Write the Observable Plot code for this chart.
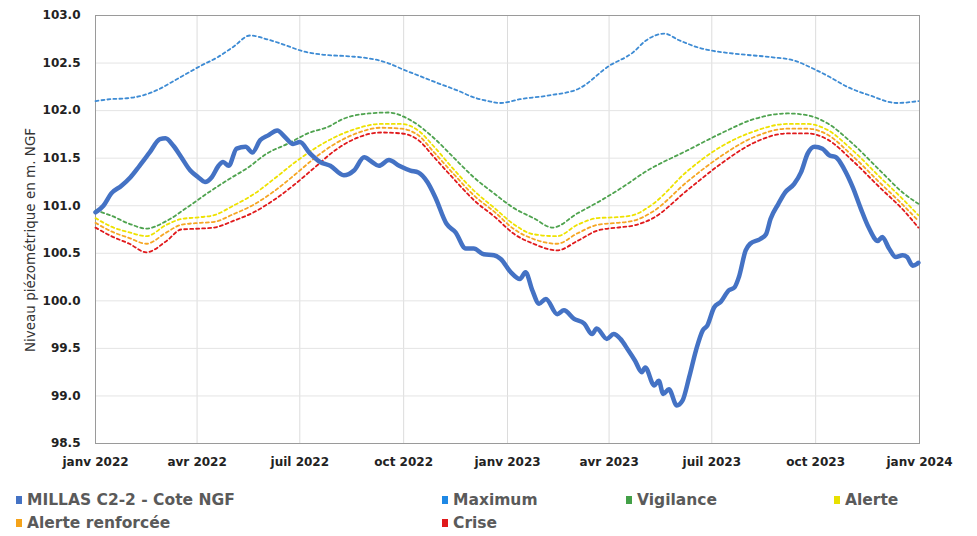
<!DOCTYPE html>
<html>
<head>
<meta charset="utf-8">
<script src="https://cdn.jsdelivr.net/npm/d3@7"></script>
<script src="https://cdn.jsdelivr.net/npm/@observablehq/plot@0.6"></script>
<style>
  html, body { margin: 0; padding: 0; background: #fff; }
  #wrap { position: relative; width: 977px; height: 536px; overflow: hidden; font-family: "DejaVu Sans", sans-serif; }
  #chart { position: absolute; left: 0; top: 0; }
  #hl { position: absolute; left: 383px; top: 0; width: 133px; height: 4px; background: #ffff00; }
  #ylabel { position: absolute; left: 30px; top: 240px; transform: translate(-50%, -50%) rotate(-90deg); white-space: nowrap; font-size: 13.5px; color: #333; }
  .leg { position: absolute; font-size: 15.5px; font-weight: bold; color: #5a5a5a; white-space: nowrap; line-height: 18px; }
  .leg i { display: inline-block; width: 6px; height: 8px; margin-right: 5px; vertical-align: 1px; }
</style>
</head>
<body>
<div id="wrap">
  <div id="hl"></div>
  <div id="chart"></div>
  <div id="ylabel">Niveau piézométrique en m. NGF</div>
  <div id="legend"></div>
</div>
<script>
// ---- Data ----
const mainDates = ["2022-01-01","2022-01-08","2022-01-15","2022-01-24","2022-02-01","2022-02-09","2022-02-18","2022-02-27","2022-03-04","2022-03-11","2022-03-18","2022-03-26","2022-04-02","2022-04-08","2022-04-14","2022-04-20","2022-04-24","2022-04-29","2022-05-06","2022-05-14","2022-05-20","2022-05-27","2022-06-03","2022-06-11","2022-06-18","2022-06-25","2022-07-01","2022-07-10","2022-07-19","2022-07-28","2022-08-09","2022-08-18","2022-08-27","2022-09-03","2022-09-09","2022-09-18","2022-09-27","2022-10-07","2022-10-14","2022-10-22","2022-10-29","2022-11-08","2022-11-16","2022-11-25","2022-12-02","2022-12-11","2022-12-20","2022-12-26","2023-01-04","2023-01-12","2023-01-17","2023-01-23","2023-01-29","2023-02-04","2023-02-14","2023-02-20","2023-03-01","2023-03-10","2023-03-17","2023-03-21","2023-03-30","2023-04-05","2023-04-11","2023-04-18","2023-04-24","2023-04-30","2023-05-03","2023-05-11","2023-05-15","2023-05-19","2023-05-24","2023-05-31","2023-06-05","2023-06-11","2023-06-17","2023-06-23","2023-06-27","2023-07-03","2023-07-09","2023-07-16","2023-07-21","2023-07-25","2023-07-31","2023-08-04","2023-08-13","2023-08-18","2023-08-22","2023-08-29","2023-09-04","2023-09-12","2023-09-18","2023-09-24","2023-09-30","2023-10-07","2023-10-13","2023-10-19","2023-10-26","2023-11-03","2023-11-10","2023-11-17","2023-11-25","2023-11-29","2023-12-05","2023-12-11","2023-12-17","2023-12-21","2023-12-26","2023-12-30","2023-12-31"];
const mainValues = [100.93,101.00,101.13,101.21,101.30,101.42,101.56,101.70,101.71,101.63,101.51,101.37,101.30,101.25,101.30,101.42,101.46,101.42,101.60,101.62,101.56,101.69,101.74,101.79,101.72,101.65,101.67,101.55,101.46,101.42,101.32,101.37,101.51,101.46,101.42,101.48,101.42,101.37,101.35,101.25,101.09,100.81,100.72,100.55,100.55,100.49,100.48,100.44,100.30,100.23,100.30,100.11,99.97,100.02,99.86,99.90,99.81,99.76,99.65,99.71,99.60,99.65,99.60,99.48,99.37,99.25,99.30,99.11,99.16,99.02,99.07,98.90,98.95,99.20,99.48,99.69,99.74,99.93,99.99,100.11,100.14,100.25,100.53,100.60,100.65,100.70,100.86,101.02,101.14,101.23,101.35,101.55,101.62,101.60,101.53,101.51,101.39,101.19,100.97,100.77,100.63,100.67,100.55,100.46,100.48,100.46,100.37,100.39,100.40];

const maxDates = ["2022-01-01","2022-01-14","2022-01-29","2022-02-12","2022-02-27","2022-03-11","2022-03-23","2022-04-04","2022-04-19","2022-05-03","2022-05-18","2022-06-02","2022-06-20","2022-07-02","2022-07-20","2022-08-15","2022-08-31","2022-09-17","2022-10-01","2022-10-16","2022-10-31","2022-11-18","2022-12-02","2022-12-15","2022-12-26","2023-01-12","2023-02-07","2023-03-05","2023-04-01","2023-04-22","2023-05-04","2023-05-20","2023-06-02","2023-06-20","2023-07-01","2023-07-20","2023-08-24","2023-09-11","2023-09-29","2023-10-14","2023-10-29","2023-11-18","2023-12-12","2023-12-31"];
const maxValues = [102.10,102.12,102.13,102.16,102.23,102.31,102.39,102.47,102.56,102.67,102.79,102.75,102.68,102.63,102.59,102.57,102.55,102.50,102.43,102.36,102.29,102.21,102.14,102.10,102.08,102.12,102.16,102.23,102.47,102.61,102.74,102.81,102.74,102.66,102.63,102.60,102.56,102.53,102.44,102.35,102.25,102.16,102.08,102.10];

const vigDates = ["2022-01-01","2022-01-14","2022-01-31","2022-02-15","2022-03-05","2022-03-23","2022-04-10","2022-04-28","2022-05-16","2022-06-02","2022-06-20","2022-07-08","2022-07-28","2022-08-06","2022-08-31","2022-09-17","2022-10-07","2022-10-27","2022-11-14","2022-12-02","2022-12-20","2023-01-06","2023-01-24","2023-02-10","2023-03-04","2023-03-24","2023-04-11","2023-05-05","2023-06-09","2023-07-09","2023-08-07","2023-09-06","2023-09-24","2023-10-11","2023-11-03","2023-11-27","2023-12-18","2023-12-31"];
const vigValues = [100.95,100.90,100.81,100.76,100.84,100.98,101.13,101.27,101.40,101.55,101.65,101.76,101.84,101.90,101.97,101.98,101.90,101.72,101.51,101.30,101.13,100.98,100.87,100.77,100.92,101.05,101.18,101.37,101.58,101.76,101.91,101.97,101.95,101.87,101.65,101.37,101.13,101.02];

const lowDates = ["2022-01-01","2022-01-15","2022-01-31","2022-02-15","2022-03-05","2022-03-18","2022-04-04","2022-04-16","2022-05-03","2022-05-21","2022-06-08","2022-06-26","2022-07-14","2022-08-01","2022-08-20","2022-09-11","2022-09-29","2022-10-14","2022-10-28","2022-11-13","2022-12-03","2022-12-21","2023-01-06","2023-01-24","2023-02-14","2023-03-04","2023-03-22","2023-04-08","2023-04-22","2023-05-10","2023-06-09","2023-07-09","2023-08-07","2023-09-06","2023-09-24","2023-10-11","2023-11-03","2023-11-27","2023-12-18","2023-12-31"];
const alerteValues = [100.87,100.78,100.72,100.68,100.80,100.86,100.88,100.90,101.00,101.12,101.28,101.45,101.60,101.72,101.81,101.86,101.86,101.79,101.62,101.40,101.15,100.97,100.81,100.70,100.68,100.80,100.87,100.88,100.90,101.02,101.36,101.62,101.78,101.86,101.86,101.80,101.58,101.30,101.06,100.90];
const renforceeValues = [100.82,100.73,100.66,100.60,100.72,100.80,100.82,100.83,100.91,101.01,101.15,101.32,101.50,101.65,101.76,101.82,101.81,101.74,101.56,101.35,101.10,100.93,100.76,100.65,100.60,100.71,100.80,100.82,100.84,100.94,101.25,101.52,101.72,101.81,101.81,101.75,101.52,101.24,101.00,100.84];
const criseValues = [100.77,100.68,100.60,100.51,100.63,100.75,100.76,100.77,100.84,100.93,101.06,101.22,101.40,101.58,101.71,101.77,101.76,101.69,101.51,101.30,101.05,100.88,100.71,100.60,100.53,100.63,100.74,100.77,100.79,100.87,101.16,101.44,101.66,101.76,101.76,101.70,101.47,101.19,100.95,100.77];

const xTickDates = ["2022-01-01","2022-04-01","2022-07-01","2022-10-01","2023-01-01","2023-04-01","2023-07-01","2023-10-01","2024-01-01"];
const xTickLabels = ["janv 2022","avr 2022","juil 2022","oct 2022","janv 2023","avr 2023","juil 2023","oct 2023","janv 2024"];
const yTicks = [98.5, 99.0, 99.5, 100.0, 100.5, 101.0, 101.5, 102.0, 102.5, 103.0];

const seriesNames = ["MILLAS C2-2 - Cote NGF","Maximum","Vigilance","Alerte","Alerte renforcée","Crise"];
const seriesColors = ["#4472c4","#1e88e5","#43a047","#e8e000","#f5a31a","#e0191b"];

// ---- Build tables ----
const toRows = (dates, values) => dates.map((d, i) => ({date: new Date(d), value: values[i]}));
const mainRows = toRows(mainDates, mainValues);
const maxRows = toRows(maxDates, maxValues);
const vigRows = toRows(vigDates, vigValues);
const alRows = toRows(lowDates, alerteValues);
const arRows = toRows(lowDates, renforceeValues);
const crRows = toRows(lowDates, criseValues);
const xTicks = xTickDates.map(d => new Date(d));

const dash = (rows, color) => Plot.line(rows, {x: "date", y: "value", stroke: color, strokeWidth: 1.8, strokeDasharray: "3,3", curve: "monotone-x"});

const chart = Plot.plot({
  width: 977,
  height: 475,
  marginTop: 15,
  marginBottom: 32,
  marginLeft: 95,
  marginRight: 58,
  style: {fontFamily: "DejaVu Sans, sans-serif", background: "#fff", overflow: "visible"},
  x: {type: "utc", domain: [xTicks[0], xTicks[xTicks.length - 1]]},
  y: {domain: [98.5, 103]},
  marks: [
    Plot.gridX(xTicks, {stroke: "#dcdcdc", strokeOpacity: 1}),
    Plot.gridY(yTicks, {stroke: "#e4e4e4", strokeOpacity: 1}),
    Plot.frame({stroke: "#9a9a9a"}),
    dash(maxRows, "#3d8bd4"),
    dash(vigRows, "#4fa34f"),
    dash(alRows, "#eee200"),
    dash(arRows, "#f6a623"),
    dash(crRows, "#e0191b"),
    Plot.line(mainRows, {x: "date", y: "value", stroke: seriesColors[0], strokeWidth: 4.5, strokeLinejoin: "round", curve: "monotone-x"}),
    Plot.axisX(xTicks, {tickSize: 0, tickPadding: 14, tickFormat: (d, i) => xTickLabels[i], fontSize: 12, fontWeight: "bold", fill: "#222", label: null}),
    Plot.axisY(yTicks, {tickSize: 0, tickPadding: 15, tickFormat: d => d.toFixed(1), fontSize: 12, fontWeight: "bold", fill: "#222", label: null})
  ]
});
document.getElementById("chart").appendChild(chart);

// ---- Legend ----
const legendPos = [[16, 491], [442, 491], [626, 491], [834, 491], [16, 514], [442, 514]];
const legend = document.getElementById("legend");
seriesNames.forEach((name, i) => {
  const el = document.createElement("div");
  el.className = "leg";
  el.style.left = legendPos[i][0] + "px";
  el.style.top = legendPos[i][1] + "px";
  const sw = document.createElement("i");
  sw.style.background = seriesColors[i];
  el.appendChild(sw);
  el.appendChild(document.createTextNode(name));
  legend.appendChild(el);
});
</script>
</body>
</html>
